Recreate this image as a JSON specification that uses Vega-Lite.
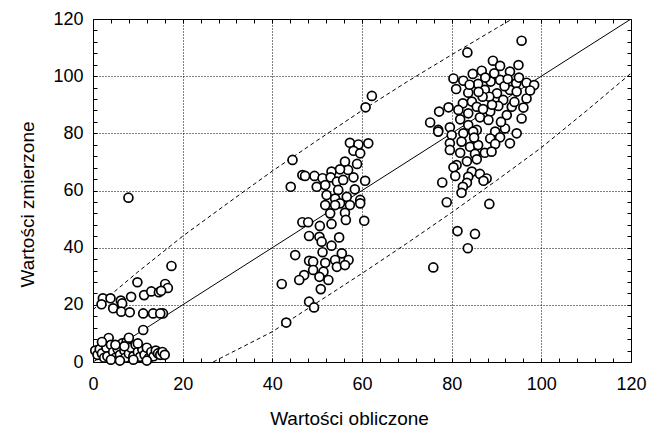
{
  "$schema": "https://vega.github.io/schema/vega-lite/v6.json",
  "width": 538,
  "height": 343,
  "autosize": {"type": "none"},
  "padding": {"left": 93, "top": 19, "right": 31, "bottom": 65},
  "background": "white",
  "config": {
    "view": {"stroke": "black", "strokeWidth": 1},
    "font": "Liberation Sans",
    "axis": {"labelFont": "Liberation Sans", "titleFont": "Liberation Sans", "labelColor": "black", "titleColor": "black", "tickColor": "black", "domain": false, "labelFlush": false, "labelOverlap": false}
  },
  "datasets": {
    "points": [
      {"x":17.5,"y":33.6},{"x":9.9,"y":27.9},{"x":2.2,"y":22.3},{"x":3.9,"y":22.3},{"x":1.9,"y":20.2},{"x":6.2,"y":21.5},{"x":6.5,"y":20.5},{"x":8.5,"y":22.8},{"x":11.4,"y":23.4},{"x":13.0,"y":24.7},{"x":14.7,"y":24.4},{"x":16.1,"y":27.3},{"x":16.7,"y":25.9},{"x":15.2,"y":24.9},{"x":4.5,"y":18.8},{"x":6.3,"y":17.6},{"x":8.2,"y":17.4},{"x":11.2,"y":17.0},{"x":13.4,"y":17.0},{"x":15.6,"y":17.0},{"x":15.0,"y":17.0},{"x":11.2,"y":11.2},{"x":7.9,"y":57.5},
      {"x":0.5,"y":4},{"x":1,"y":2.5},{"x":1.5,"y":4.5},{"x":2,"y":3},{"x":2.5,"y":1.5},{"x":3,"y":5},{"x":3.5,"y":8.4},{"x":3.2,"y":2},{"x":4,"y":6},{"x":4.5,"y":3.5},{"x":5,"y":1.5},{"x":5.5,"y":4.5},{"x":6,"y":2.5},{"x":6.5,"y":6.5},{"x":7,"y":4},{"x":7.2,"y":1.5},{"x":7.5,"y":7},{"x":8,"y":3},{"x":8.5,"y":5},{"x":9,"y":2},{"x":9.5,"y":6},{"x":10,"y":3.5},{"x":10.5,"y":1.8},{"x":11,"y":4.5},{"x":11.5,"y":2.5},{"x":12,"y":5},{"x":12.5,"y":1.5},{"x":13,"y":3.5},{"x":13.5,"y":2},{"x":14,"y":4},{"x":14.5,"y":3},{"x":15,"y":2.5},{"x":15.5,"y":3.5},{"x":16,"y":2.5},{"x":4,"y":0.8},{"x":6,"y":0.5},{"x":9,"y":0.8},{"x":12,"y":0.5},{"x":2,"y":7},{"x":8,"y":8.5},{"x":5,"y":6},{"x":10,"y":6.5},{"x":7,"y":5.5},
      {"x":62.2,"y":93.1},{"x":60.8,"y":89.1},{"x":44.5,"y":70.7},{"x":44.1,"y":61.3},{"x":57.3,"y":76.7},{"x":59.2,"y":76.1},{"x":61.4,"y":76.5},{"x":58.1,"y":73.9},{"x":59.6,"y":73.0},{"x":56.2,"y":70.1},{"x":58.9,"y":69.3},{"x":56.9,"y":67.2},{"x":53.2,"y":66.6},{"x":55.1,"y":67.4},{"x":46.7,"y":65.4},{"x":47.3,"y":65.1},{"x":49.4,"y":65.1},{"x":51.2,"y":64.3},{"x":53.0,"y":64.6},{"x":54.4,"y":63.1},{"x":58.1,"y":64.6},{"x":60.7,"y":63.4},{"x":49.9,"y":61.3},{"x":51.8,"y":61.9},{"x":55.8,"y":63.7},{"x":54.7,"y":60.2},{"x":58.4,"y":60.4},{"x":52.1,"y":58.4},{"x":56.6,"y":57.8},{"x":54.0,"y":57.2},{"x":59.6,"y":56.7},{"x":51.8,"y":54.9},{"x":57.3,"y":54.9},{"x":55.1,"y":55.5},{"x":54.0,"y":54.9},{"x":59.6,"y":55.5},{"x":52.9,"y":52.0},{"x":56.2,"y":52.2},{"x":46.7,"y":48.9},{"x":48.0,"y":48.9},{"x":50.6,"y":47.6},{"x":53.2,"y":48.3},{"x":56.4,"y":49.7},{"x":60.5,"y":49.4},{"x":48.2,"y":44.1},{"x":50.5,"y":43.8},{"x":54.9,"y":43.6},{"x":51.0,"y":42.1},{"x":53.2,"y":40.7},{"x":45.1,"y":37.4},{"x":51.2,"y":38.4},{"x":55.5,"y":38.0},{"x":48.2,"y":35.4},{"x":49.1,"y":35.1},{"x":51.8,"y":34.7},{"x":54.0,"y":35.7},{"x":57.0,"y":35.7},{"x":49.1,"y":32.2},{"x":51.4,"y":31.6},{"x":54.4,"y":33.3},{"x":56.2,"y":33.9},{"x":47.1,"y":30.4},{"x":46.0,"y":28.7},{"x":50.5,"y":29.8},{"x":52.5,"y":28.7},{"x":42.1,"y":27.3},{"x":50.8,"y":25.5},{"x":48.2,"y":21.1},{"x":49.3,"y":19.1},{"x":43.1,"y":13.8},
      {"x":95.6,"y":112.4},{"x":83.5,"y":108.3},{"x":89.2,"y":105.4},{"x":90.8,"y":103.6},{"x":94.9,"y":103.9},{"x":93.0,"y":101.6},{"x":86.7,"y":101.9},{"x":80.4,"y":99.2},{"x":82.6,"y":98.4},{"x":84.7,"y":100.8},{"x":88.7,"y":98.1},{"x":90.8,"y":98.7},{"x":94.4,"y":97.5},{"x":96.7,"y":97.7},{"x":98.4,"y":96.9},{"x":85.9,"y":97.3},{"x":87.4,"y":95.2},{"x":93.0,"y":95.2},{"x":90.1,"y":94.0},{"x":83.7,"y":94.2},{"x":94.5,"y":94.6},{"x":88.4,"y":92.8},{"x":96.7,"y":92.2},{"x":84.5,"y":91.1},{"x":86.9,"y":92.8},{"x":91.5,"y":91.7},{"x":82.5,"y":90.5},{"x":93.4,"y":89.3},{"x":79.3,"y":89.1},{"x":85.6,"y":89.3},{"x":90.4,"y":89.6},{"x":81.5,"y":88.2},{"x":77.2,"y":87.6},{"x":83.7,"y":87.0},{"x":88.6,"y":87.6},{"x":92.3,"y":86.4},{"x":95.6,"y":85.2},{"x":81.9,"y":84.9},{"x":86.3,"y":85.6},{"x":75.2,"y":83.8},{"x":79.6,"y":82.1},{"x":77.0,"y":81.2},{"x":83.7,"y":82.9},{"x":88.2,"y":84.7},{"x":85.6,"y":81.2},{"x":91.9,"y":81.7},{"x":89.7,"y":80.6},{"x":82.6,"y":80.0},{"x":94.5,"y":80.0},{"x":77.0,"y":80.6},{"x":80.0,"y":79.4},{"x":84.8,"y":80.6},{"x":88.6,"y":78.2},{"x":90.8,"y":78.6},{"x":93.0,"y":76.5},{"x":89.7,"y":76.3},{"x":79.6,"y":76.5},{"x":82.2,"y":77.1},{"x":84.1,"y":75.3},{"x":85.9,"y":75.9},{"x":79.6,"y":74.2},{"x":81.9,"y":73.2},{"x":85.2,"y":72.8},{"x":87.4,"y":73.2},{"x":88.9,"y":73.6},{"x":83.4,"y":70.2},{"x":85.6,"y":70.9},{"x":81.1,"y":68.9},{"x":80.4,"y":68.1},{"x":84.5,"y":66.6},{"x":86.3,"y":65.8},{"x":80.8,"y":65.1},{"x":83.7,"y":64.8},{"x":87.8,"y":64.2},{"x":87.1,"y":63.4},{"x":77.9,"y":62.8},{"x":83.4,"y":62.7},{"x":82.5,"y":61.3},{"x":82.2,"y":59.2},{"x":78.9,"y":55.9},{"x":88.4,"y":55.3},{"x":81.3,"y":45.8},{"x":85.2,"y":44.8},{"x":83.6,"y":39.8},{"x":75.9,"y":33.1},
      {"x":87.5,"y":99.5},{"x":91.8,"y":96.5},{"x":89.0,"y":90.0},{"x":86.0,"y":94.5},{"x":92.5,"y":99.0},{"x":95.0,"y":99.5},{"x":97.5,"y":95.0},{"x":84.0,"y":97.0},{"x":81.0,"y":95.5},{"x":89.5,"y":101.0},{"x":87.0,"y":88.5},{"x":91.0,"y":84.0},{"x":85.0,"y":78.5},{"x":94.0,"y":91.0},{"x":96.0,"y":89.0}
    ],
    "fit": [{"x":0,"y":0},{"x":120,"y":120}],
    "bands": [
      {"band":"upper","x":0,"y":18.3},{"band":"upper","x":10,"y":31.5},{"band":"upper","x":20,"y":44},{"band":"upper","x":30,"y":55.5},{"band":"upper","x":40,"y":66.8},{"band":"upper","x":50,"y":77.5},{"band":"upper","x":60,"y":88},{"band":"upper","x":70,"y":98},{"band":"upper","x":80,"y":107.5},{"band":"upper","x":90,"y":116.8},{"band":"upper","x":93.5,"y":120},
      {"band":"lower","x":26.8,"y":0},{"band":"lower","x":30,"y":2.6},{"band":"lower","x":40,"y":10.6},{"band":"lower","x":50,"y":20.8},{"band":"lower","x":60,"y":31},{"band":"lower","x":70,"y":41.5},{"band":"lower","x":80,"y":52.3},{"band":"lower","x":90,"y":63.5},{"band":"lower","x":100,"y":75},{"band":"lower","x":110,"y":87.8},{"band":"lower","x":120,"y":101}
    ]
  },
  "resolve": {"axis": {"x": "independent", "y": "independent"}},
  "layer": [
    {
      "data": {"name": "fit"},
      "mark": {"type": "line", "color": "black", "strokeWidth": 1, "clip": true},
      "encoding": {
        "x": {"field": "x", "type": "quantitative", "scale": {"domain": [0, 120], "nice": false},
          "axis": {"orient": "top", "values": [0,4,8,12,16,20,24,28,32,36,40,44,48,52,56,60,64,68,72,76,80,84,88,92,96,100,104,108,112,116,120], "labels": false, "grid": false, "tickSize": -4, "title": null}},
        "y": {"field": "y", "type": "quantitative", "scale": {"domain": [0, 120], "nice": false},
          "axis": {"orient": "right", "values": [0,4,8,12,16,20,24,28,32,36,40,44,48,52,56,60,64,68,72,76,80,84,88,92,96,100,104,108,112,116,120], "labels": false, "grid": false, "tickSize": -4, "title": null}}
      }
    },
    {
      "data": {"name": "bands"},
      "mark": {"type": "line", "color": "black", "strokeWidth": 1, "strokeDash": [4, 3], "clip": true},
      "encoding": {
        "x": {"field": "x", "type": "quantitative", "axis": null},
        "y": {"field": "y", "type": "quantitative", "axis": null},
        "detail": {"field": "band"}
      }
    },
    {
      "data": {"name": "points"},
      "mark": {"type": "point", "shape": "circle", "filled": true, "fill": "white", "stroke": "black", "strokeWidth": 1.7, "size": 80, "opacity": 1},
      "encoding": {
        "x": {"field": "x", "type": "quantitative",
          "axis": {"orient": "bottom", "values": [0,4,8,12,16,20,24,28,32,36,40,44,48,52,56,60,64,68,72,76,80,84,88,92,96,100,104,108,112,116,120],
            "labelExpr": "datum.value % 20 === 0 ? datum.label : ''", "labelFontSize": 18, "labelPadding": 17, "tickSize": -4,
            "grid": true, "gridColor": "black", "gridDash": [1, 2], "gridWidth": 1,
            "gridOpacity": {"condition": {"test": "datum.value % 20 === 0 && datum.value > 0 && datum.value < 120", "value": 1}, "value": 0},
            "title": "Wartości obliczone", "titleFontSize": 19, "titleFontWeight": "normal", "titleX": 256, "titleY": 62, "titleBaseline": "alphabetic", "titleAlign": "center"}},
        "y": {"field": "y", "type": "quantitative",
          "axis": {"orient": "left", "values": [0,4,8,12,16,20,24,28,32,36,40,44,48,52,56,60,64,68,72,76,80,84,88,92,96,100,104,108,112,116,120],
            "labelExpr": "datum.value % 20 === 0 ? datum.label : ''", "labelFontSize": 18, "labelPadding": 14, "tickSize": -4,
            "grid": true, "gridColor": "black", "gridDash": [1, 2], "gridWidth": 1,
            "gridOpacity": {"condition": {"test": "datum.value % 20 === 0 && datum.value > 0 && datum.value < 120", "value": 1}, "value": 0},
            "title": "Wartości zmierzone", "titleFontSize": 19, "titleFontWeight": "normal", "titleX": -60, "titleY": 185, "titleAngle": -90, "titleBaseline": "alphabetic", "titleAlign": "center"}}
      }
    }
  ]
}
